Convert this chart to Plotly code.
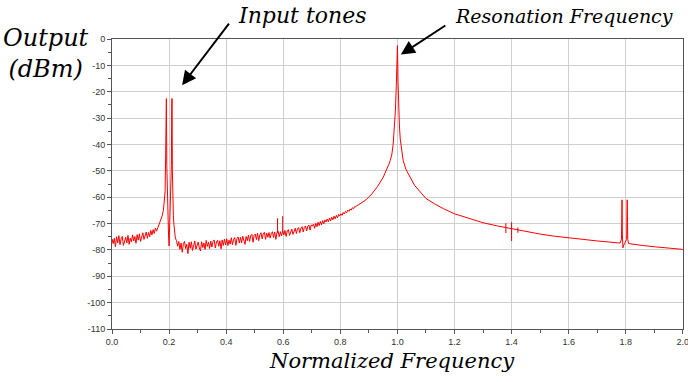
import numpy as np
import plotly.graph_objects as go

# ---------------- data ----------------
# noise floor below the input tones, sampled every 0.004 from 0.000 to 0.168
noise_a_start, noise_a_end = 0.0, 0.168
noise_a_db = [-75.8, -77.6, -75.6, -78.8, -75.0, -77.3, -74.6, -78.0, -75.8, -74.9,
              -78.3, -76.0, -75.2, -77.4, -74.5, -77.9, -75.5, -77.0, -74.3, -76.6,
              -74.9, -77.5, -74.2, -76.3, -73.9, -76.8, -74.6, -73.5, -76.0, -74.0,
              -73.2, -75.6, -73.4, -75.0, -72.6, -74.3, -72.3, -73.8, -71.7, -72.9,
              -71.2, -70.6, -69.4]

# the two input tones
tones_x = [0.172, 0.176, 0.180, 0.183, 0.186, 0.188, 0.1895, 0.1905, 0.192, 0.194,
           0.196, 0.198, 0.200, 0.202, 0.204, 0.206, 0.208, 0.2095, 0.2105, 0.2115,
           0.213, 0.215, 0.217, 0.219, 0.222]
tones_db = [-68.5, -67.0, -65.0, -62.5, -58.0, -44.0, -22.6, -22.6, -48.0, -62.0,
            -68.0, -74.0, -78.5, -72.0, -66.0, -62.0, -48.0, -22.6, -22.6, -50.0,
            -62.0, -67.0, -70.5, -73.0, -75.5]

# noise floor between tones and resonance, every 0.004 from 0.226 to 0.862
noise_b_start, noise_b_end = 0.226, 0.862
noise_b_db = [-76.5, -78.6, -76.8, -79.8, -77.4, -80.9, -77.6,
              -76.8, -79.5, -77.9, -81.4, -77.1, -79.4, -76.9, -80.2, -77.6, -76.6, -79.7, -77.9,
              -77.0, -79.3, -80.4, -76.9, -79.1, -77.4, -79.8, -76.4, -78.7, -77.1, -79.5, -76.7,
              -78.9, -76.8, -76.2, -79.3, -77.0, -76.4, -78.6, -76.5, -79.6, -76.2, -78.3, -75.9, -78.1,
              -75.8, -78.4, -76.3, -77.8, -75.4, -78.0, -76.0, -75.3, -78.3, -75.6, -75.1, -77.4,
              -75.2, -77.3, -74.8, -76.9, -77.9, -74.9, -76.5, -74.4, -76.8, -74.6, -74.1, -77.1, -74.5,
              -74.0, -76.1, -73.7, -76.5, -74.3, -73.5, -75.8, -73.9, -73.3, -76.0, -73.6, -75.2,
              -73.4, -75.5, -73.8, -73.1, -75.3, -73.2, -76.0, -73.5, -72.9, -75.0, -73.1, -74.7, -72.8,
              -74.3, -72.6, -74.9, -72.8, -72.3, -74.5, -72.7, -72.1, -74.1, -72.4, -71.8, -73.8,
              -72.0, -71.5, -73.5, -71.7, -71.2, -73.2, -71.4, -70.9, -72.8, -71.0, -70.6, -72.5, -70.5,
              -71.0, -70.2, -71.8, -69.9, -71.2, -69.5, -70.8, -69.2, -70.5, -68.9, -70.1, -68.6,
              -69.4, -68.3, -69.3, -67.9, -69.0, -67.6, -68.6, -67.2, -68.2, -66.9, -67.8, -66.5, -67.2,
              -66.3, -66.9, -65.8, -66.4, -65.4, -65.9, -64.9, -65.4, -64.5, -64.9, -64.0, -64.4,
              -63.6, -63.7, -63.1, -63.0]

# resonance peak and the tail up to 2.0
res_x = [0.87, 0.89, 0.91, 0.93, 0.95, 0.96, 0.97, 0.975, 0.98, 0.985,
         0.99, 0.993, 0.996, 0.998, 0.999, 1.0, 1.001, 1.002, 1.004, 1.007,
         1.01, 1.015, 1.02, 1.03, 1.045, 1.06, 1.08, 1.1, 1.13, 1.16,
         1.2, 1.25, 1.3, 1.35, 1.4, 1.45, 1.5, 1.55, 1.6, 1.65,
         1.7, 1.74, 1.78, 1.785, 1.787, 1.788, 1.79, 1.792, 1.796, 1.803,
         1.805, 1.807, 1.81, 1.82, 1.85, 1.9, 1.95, 2.0]
res_db = [-62.5, -61, -58.8, -56, -52.5, -50.3, -47.5, -46, -44, -40,
          -33, -27, -18, -10, -6, -2.5, -8, -16, -26, -33,
          -38, -43, -46, -49.5, -52.5, -55.5, -58, -60.5, -62.5, -64.3,
          -66.3, -68, -69.7, -70.9, -72, -73, -74, -74.8, -75.5, -76,
          -76.6, -77, -77.4, -76, -61, -74, -79.2, -78.5, -77.5, -76,
          -61, -76, -77.6, -77.8, -78.2, -78.8, -79.3, -79.8]

# small spurs (frequency, top dB, bottom dB)
spur_f = [0.580, 0.598, 1.380, 1.400, 1.422]
spur_top = [-68.0, -67.2, -69.9, -69.5, -71.5]
spur_bot = [-73.5, -73.0, -73.6, -76.6, -73.5]

x_tickvals = [0.0, 0.2, 0.4, 0.6, 0.8, 1.0, 1.2, 1.4, 1.6, 1.8, 2.0]
x_ticktext = ["0.0", "0.2", "0.4", "0.6", "0.8", "1.0", "1.2", "1.4", "1.6", "1.8", "2.0"]
y_tickvals = [0, -10, -20, -30, -40, -50, -60, -70, -80, -90, -100, -110]
y_ticktext = ["0", "-10", "-20", "-30", "-40", "-50", "-60", "-70", "-80", "-90", "-100", "-110"]

# ---------------- build the trace ----------------
xa = np.linspace(noise_a_start, noise_a_end, len(noise_a_db))
xb = np.linspace(noise_b_start, noise_b_end, len(noise_b_db))
x_all = list(xa) + tones_x + list(xb) + res_x
y_all = noise_a_db + tones_db + noise_b_db + res_db

sx, sy = [], []
for f, t, b in zip(spur_f, spur_top, spur_bot):
    sx += [f, f, None]
    sy += [t, b, None]

fig = go.Figure()
fig.add_trace(go.Scatter(x=x_all, y=y_all, mode="lines",
                         line=dict(color="#ff0000", width=1), showlegend=False))
fig.add_trace(go.Scatter(x=sx, y=sy, mode="lines",
                         line=dict(color="#e00000", width=1), showlegend=False))

W, H = 688, 382
L, R, T, B = 112, 5, 39, 53
pw, ph = W - L - R, H - T - B

def px(xp):
    return (xp - L) / pw

def py(yp):
    return (H - B - yp) / ph

tick_font = dict(family="Liberation Sans", size=9, color="#333333")
serif = "DejaVu Serif"

fig.update_layout(
    width=W, height=H,
    margin=dict(l=L, r=R, t=T, b=B, autoexpand=False),
    paper_bgcolor="white", plot_bgcolor="white",
    xaxis=dict(range=[0, 2.0005], tickvals=x_tickvals, ticktext=x_ticktext,
               ticklabeloverflow="allow", automargin=False,
               showgrid=True, gridcolor="#cfcfcf", gridwidth=1,
               showline=True, linecolor="#555555", linewidth=1, mirror=True,
               ticks="outside", ticklen=4, tickcolor="#555555",
               minor=dict(dtick=0.1, ticks="outside", ticklen=3, tickcolor="#555555", showgrid=False),
               tickfont=tick_font, zeroline=False),
    yaxis=dict(range=[-110, 0], tickvals=y_tickvals, ticktext=y_ticktext,
               automargin=False,
               showgrid=True, gridcolor="#cfcfcf", gridwidth=1,
               showline=True, linecolor="#555555", linewidth=1, mirror=True,
               ticks="outside", ticklen=4, tickcolor="#555555",
               minor=dict(dtick=5, ticks="outside", ticklen=3, tickcolor="#555555", showgrid=False),
               tickfont=tick_font, zeroline=False),
)

annotations = [
    dict(x=0.2456, y=-17.5, xref="x", yref="y", ax=48, ay=-63,
         text="", showarrow=True, arrowhead=2, arrowsize=1.4, arrowwidth=2, arrowcolor="black"),
    dict(x=1.012, y=-5.9, xref="x", yref="y", ax=46, ay=-30,
         text="", showarrow=True, arrowhead=2, arrowsize=1.4, arrowwidth=2, arrowcolor="black"),
    dict(x=px(236), y=py(1), xref="paper", yref="paper", xanchor="left", yanchor="top",
         text="Input tones", showarrow=False,
         font=dict(family=serif, size=22, color="black", style="italic")),
    dict(x=px(453), y=py(3), xref="paper", yref="paper", xanchor="left", yanchor="top",
         text="Resonation Frequency", showarrow=False,
         font=dict(family=serif, size=19, color="black", style="italic")),
    dict(x=px(46), y=py(22), xref="paper", yref="paper", xanchor="center", yanchor="top",
         text="Output<br>(dBm)", showarrow=False, align="center",
         font=dict(family=serif, size=24, color="black", style="italic")),
    dict(x=px(392), y=py(347), xref="paper", yref="paper", xanchor="center", yanchor="top",
         text="Normalized Frequency", showarrow=False,
         font=dict(family=serif, size=21, color="black", style="italic")),
]
fig.update_layout(annotations=annotations)

fig.write_html("out.html")
